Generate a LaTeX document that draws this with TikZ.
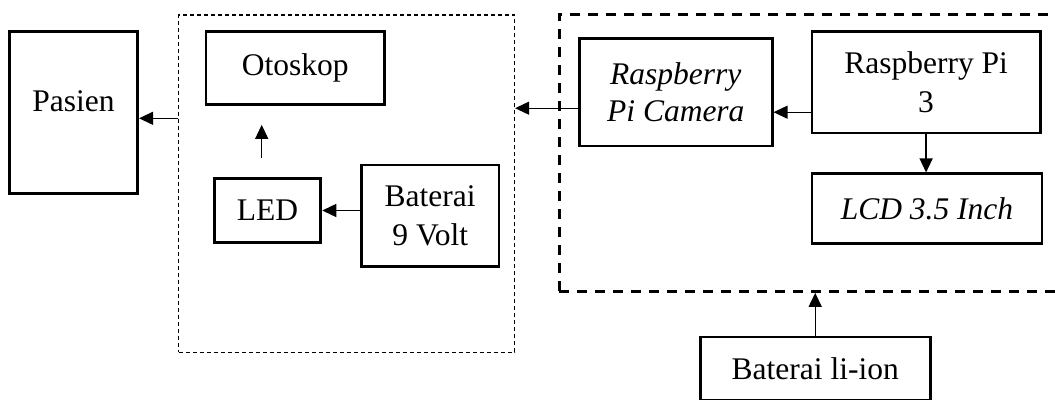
\documentclass[tikz,border=0pt]{standalone}
\usepackage{fontspec}
\setmainfont{Liberation Serif}
\usetikzlibrary{calc, arrows.meta}
\tikzset{
  blok/.style = {align=center, inner sep=0pt, text centered,
    font=\fontsize{31.5}{39}\selectfont},
  blok_n/.style = {blok, rectangle, draw=black, line width=2.8pt},% kotak blok
  grup_t/.style = {rectangle, draw=black, line width=1.2pt,
    dash pattern=on 4pt off 3pt},% grup otoskop, garis tipis
  grup_k/.style = {rectangle, draw=black, line width=2.8pt,
    dash pattern=on 10pt off 8pt},% grup raspberry, garis tebal
  panah/.style = {-{Triangle[length=14pt,width=13pt]}, line width=1.3pt}
}
\begin{document}
\begin{tikzpicture}[x=1pt, y=-1pt]
\useasboundingbox (0,0) rectangle (1055,399);

\node[grup_t, minimum width=336pt, minimum height=337.4pt] (g1) at (346.5,183.6) {};
\node[grup_k, minimum width=511pt, minimum height=277.2pt] (g2) at (814.6,152.8) {};

\node[blok_n, minimum width=128.5pt, minimum height=162.3pt] (a1) at (73.4,112.6) {};
\node[blok] (a1t) at ([yshift=11pt]a1.center) {Pasien};
\node[blok_n, minimum width=178.5pt, minimum height=72.7pt] (a2) at (295.2,68.2) {Otoskop};
\node[blok_n, minimum width=106.5pt, minimum height=64.5pt] (a3) at (267.6,210.5) {LED};
\node[blok_n, minimum width=137.6pt, minimum height=101.4pt] (a4) at (430.2,215.7) {Baterai\\9 Volt};
\node[blok_n, minimum width=192.7pt, minimum height=107.8pt, font=\fontsize{31.5}{37}\selectfont\itshape] (a5) at (675.8,92.1) {Raspberry\\Pi Camera};
\node[blok_n, minimum width=228.2pt, minimum height=101.5pt] (a6) at (926.1,82.2) {Raspberry Pi\\3};
\node[blok_n, minimum width=229.9pt, minimum height=69.9pt, font=\fontsize{31.5}{39}\selectfont\itshape] (a7) at (927,208.8) {LCD 3.5 Inch};
\node[blok_n, minimum width=230.2pt, minimum height=63pt] (a8) at (815.2,368.5) {Baterai li-ion};

\coordinate (p1) at ([yshift=-5.7pt]a1.east);
\coordinate (p2) at ([xshift=-5.9pt, yshift=19.3pt]a3.north);
\coordinate (p3) at ([yshift=-16.1pt]a5.west);
\coordinate (p4) at ([yshift=-20.1pt]a5.east);

\draw[panah] (g1.west |- p1) to (p1);
\draw[panah] (p2) to ([yshift=-18.9pt]p2 |- a2.south);
\draw[panah] (a4.west |- a3.east) to (a3.east);
\draw[panah] (p3) to (g1.east |- p3);
\draw[panah] (a6.west |- p4) to (p4);
\draw[panah] (a6.south) to (a7.north -| a6.south);
\draw[panah] (a8.north) to (a8.north |- g2.south);
\end{tikzpicture}
\end{document}
